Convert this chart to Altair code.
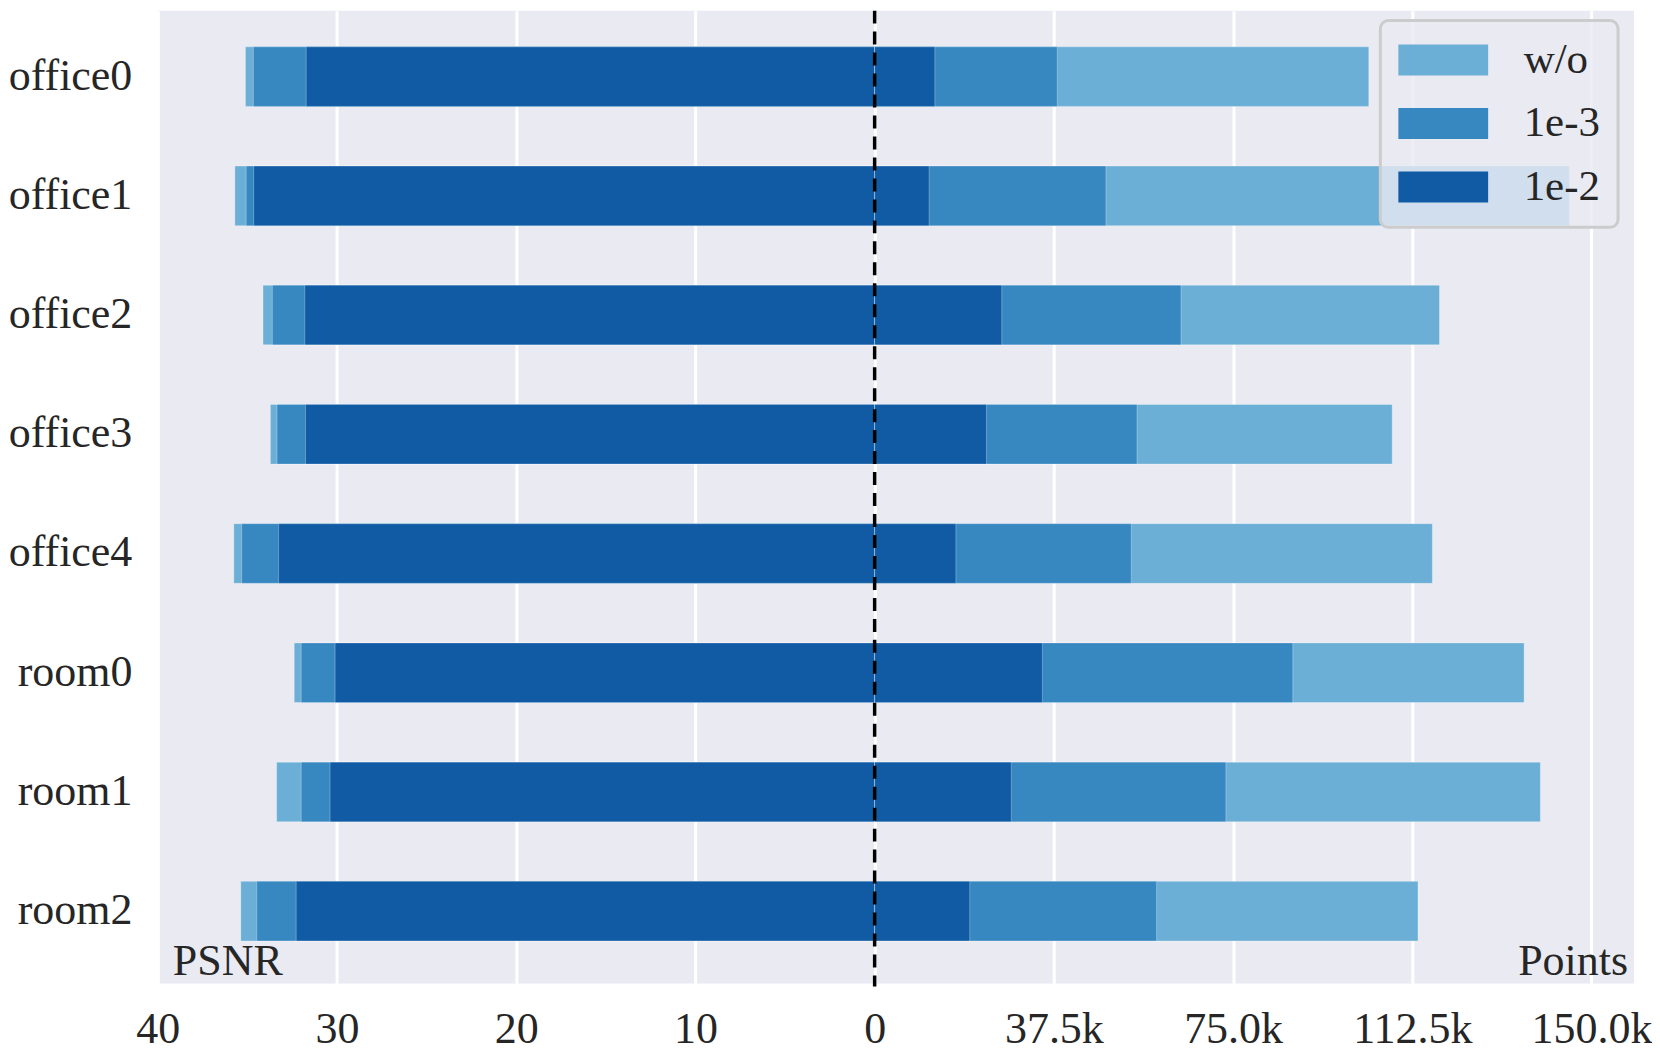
import altair as alt
import pandas as pd

# ---------------- data ----------------
scenes = ["office0", "office1", "office2", "office3", "office4", "room0", "room1", "room2"]
methods = ["w/o", "1e-3", "1e-2"]
colors = ["#6baed6", "#3787c0", "#105ba4"]

psnr_wo = [35.11, 35.70, 34.13, 33.72, 35.76, 32.39, 33.37, 35.37]
psnr_1e3 = [34.67, 35.07, 33.61, 33.35, 35.32, 32.00, 32.00, 34.48]
psnr_1e2 = [31.72, 34.65, 31.80, 31.76, 33.26, 30.11, 30.39, 32.28]

points_wo = [103400, 145400, 118200, 108300, 116700, 135900, 139300, 113700]
points_1e3 = [38200, 48400, 64100, 54900, 53700, 87500, 73500, 59000]
points_1e2 = [12600, 11400, 26600, 23400, 17000, 35100, 28600, 19900]

psnr_ticks = [40, 30, 20, 10, 0]
points_ticks = [37500, 75000, 112500, 150000]
psnr_max = 40
points_max = 158900
side_labels = ["PSNR", "Points"]

# PSNR drawn on the left half: 40 PSNR spans the same width as 150k points
factor = points_ticks[-1] / psnr_ticks[0]

rows = []
for m, ps, pt in zip(methods, [psnr_wo, psnr_1e3, psnr_1e2], [points_wo, points_1e3, points_1e2]):
    for s, a, b in zip(scenes, ps, pt):
        rows.append({"scene": s, "method": m, "psnr": a, "points": b})
df = pd.DataFrame(rows)

# ---------------- style ----------------
W, H = 1478, 974
FONT = "Liberation Serif"
TXT = "#262626"

tick_values = [-t * factor for t in psnr_ticks] + points_ticks
label_expr = (
    f"datum.value < 0 ? format(-datum.value/{factor}, 'd') : "
    "(datum.value == 0 ? '0' : format(datum.value/1000, '.1f') + 'k')"
)

xscale = alt.Scale(domain=[-psnr_max * factor, points_max], nice=False, zero=False)
yscale = alt.Scale(paddingInner=0.5, paddingOuter=0.33, align=0.46)
cscale = alt.Scale(domain=methods, range=colors)

xaxis = alt.Axis(
    values=tick_values, labelExpr=label_expr, grid=True, gridColor="white",
    gridWidth=3, gridOpacity=1, domain=False, ticks=False, tickSize=0,
    labelPadding=24, labelFontSize=44, labelFont=FONT, labelColor=TXT,
    labelFlush=False, labelOverlap=False,
)
yaxis = alt.Axis(
    domain=False, ticks=False, tickSize=0, labelPadding=26, labelFontSize=44,
    labelFont=FONT, labelColor=TXT, grid=False,
)

ycat = alt.Y("scene:N", sort=scenes, scale=yscale, axis=yaxis, title=None)
color = alt.Color("method:N", scale=cscale, title=None,
                  legend=alt.Legend(orient="none", legendX=1224, legendY=10))

base = alt.Chart(df)

left = base.mark_bar(stroke="white", strokeWidth=1, strokeOpacity=0.3).transform_calculate(
    xl=f"-datum.psnr*{factor}"
).encode(
    x=alt.X("xl:Q", scale=xscale, axis=xaxis, stack=None, title=None),
    y=ycat,
    color=color,
)

right = base.mark_bar(stroke="white", strokeWidth=1, strokeOpacity=0.3).encode(
    x=alt.X("points:Q", scale=xscale, axis=xaxis, stack=None, title=None),
    y=ycat,
    color=color,
)

rule = alt.Chart(pd.DataFrame({"c": [0]})).mark_rule(
    color="black", strokeWidth=3.5, strokeDash=[13, 8]
).encode(
    x=alt.X("c:Q", scale=xscale, axis=xaxis, title=None),
    y=alt.value(0),
    y2=alt.value(H + 3),
)

txt_left = alt.Chart(pd.DataFrame({"t": [side_labels[0]]})).mark_text(
    align="left", baseline="alphabetic", font=FONT, fontSize=44, color=TXT
).encode(text="t:N", x=alt.value(15), y=alt.value(H - 8))

txt_right = alt.Chart(pd.DataFrame({"t": [side_labels[1]]})).mark_text(
    align="right", baseline="alphabetic", font=FONT, fontSize=44, color=TXT
).encode(text="t:N", x=alt.value(W - 6), y=alt.value(H - 8))

chart = alt.layer(left, right, rule, txt_left, txt_right).properties(
    width=W, height=H, padding=0, background="white"
).configure_view(
    fill="#eaeaf2", strokeWidth=0
).configure_legend(
    fillColor="rgba(234,234,242,0.8)", strokeColor="#cccccc", strokeWidth=3,
    cornerRadius=8, padding=18, symbolType="M-2.9,-1H2.9V1H-2.9Z",
    symbolSize=961, symbolStrokeWidth=0, symbolOpacity=1, symbolOffset=23.5,
    labelFont=FONT, labelFontSize=43, labelColor=TXT, labelOffset=59,
    rowPadding=19.5,
)

chart.save("out.html", embed_options={"renderer": "svg", "actions": False})
